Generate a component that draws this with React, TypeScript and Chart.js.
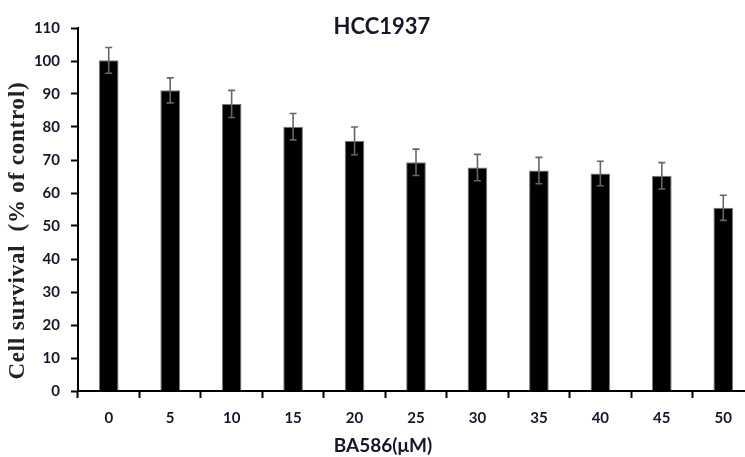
import React, { useEffect, useRef } from 'react';
import { Chart, registerables } from 'chart.js';

Chart.register(...registerables);

const categories = ['0', '5', '10', '15', '20', '25', '30', '35', '40', '45', '50'];
const survival = [100.2, 91.1, 87.0, 80.1, 75.8, 69.3, 67.7, 66.8, 65.9, 65.2, 55.5];
const errors = [3.9, 3.8, 4.1, 4.0, 4.2, 4.0, 4.0, 4.0, 3.7, 4.0, 3.8];

const chartTitle = 'HCC1937';
const xTitle = 'BA586(\u03bcM)';
const yTitle = 'Cell survival  (% of control)';

const textColor = '#16162a';

const errorBarPlugin = {
  id: 'errorBars',
  afterDatasetsDraw(chart: any) {
    const ctx = chart.ctx;
    const meta = chart.getDatasetMeta(0);
    const y = chart.scales.y;
    ctx.save();
    ctx.strokeStyle = '#666';
    ctx.lineWidth = 1.6;
    meta.data.forEach((el: any, i: number) => {
      const v = survival[i];
      const e = errors[i];
      const top = y.getPixelForValue(v + e);
      const bot = y.getPixelForValue(v - e);
      const x = el.x;
      const cap = 3.5;
      ctx.beginPath();
      ctx.moveTo(x, top);
      ctx.lineTo(x, bot);
      ctx.moveTo(x - cap, top);
      ctx.lineTo(x + cap, top);
      ctx.moveTo(x - cap, bot);
      ctx.lineTo(x + cap, bot);
      ctx.stroke();
    });
    ctx.restore();
  },
};

const textPlugin = {
  id: 'texts',
  afterDraw(chart: any) {
    const ctx = chart.ctx;
    const area = chart.chartArea;
    ctx.save();
    ctx.fillStyle = textColor;
    ctx.textAlign = 'center';
    ctx.textBaseline = 'middle';
    ctx.font = 'bold 22px Lato';
    ctx.fillText(chartTitle, chart.width / 2 + 2, 27);
    ctx.font = 'bold 19px Lato';
    ctx.fillText(xTitle, chart.width / 2 + 3, area.bottom + 55);
    ctx.translate(18, (area.top + area.bottom) / 2 + 21);
    ctx.rotate(-Math.PI / 2);
    ctx.fillStyle = '#222';
    ctx.font = 'bold 23px "Liberation Serif"';
    try {
      (ctx as any).letterSpacing = '0.8px';
    } catch (e) {
      /* ignore */
    }
    ctx.fillText(yTitle, 0, 0);
    ctx.restore();
  },
};

export default function App() {
  const ref = useRef<HTMLCanvasElement | null>(null);
  useEffect(() => {
    if (!ref.current) return;
    const chart = new Chart(ref.current, {
      type: 'bar',
      data: {
        labels: categories,
        datasets: [
          {
            data: survival,
            backgroundColor: '#000',
            borderColor: '#7a7a7a',
            borderWidth: 1,
            barPercentage: 0.32,
            categoryPercentage: 1,
          },
        ],
      },
      options: {
        animation: false,
        responsive: true,
        maintainAspectRatio: false,
        layout: { padding: { top: 28, right: 6, left: 0, bottom: 0 } },
        plugins: {
          legend: { display: false },
          title: { display: false },
          tooltip: { enabled: false },
        },
        scales: {
          x: {
            afterFit: (s: any) => {
              s.height = 66;
            },
            border: { color: '#000', width: 2 },
            grid: {
              offset: true,
              drawOnChartArea: false,
              drawTicks: true,
              tickLength: 7,
              tickColor: '#000',
              tickWidth: 2,
            },
            ticks: {
              color: textColor,
              padding: 11,
              font: { family: 'Lato', weight: 'bold', size: 15 },
            },
          },
          y: {
            min: 0,
            max: 110,
            afterFit: (s: any) => {
              s.width = 78;
            },
            border: { color: '#000', width: 2 },
            grid: {
              drawOnChartArea: false,
              drawTicks: true,
              tickLength: 7,
              tickColor: '#000',
              tickWidth: 2,
            },
            ticks: {
              stepSize: 10,
              color: textColor,
              padding: 11,
              font: { family: 'Lato', weight: 'bold', size: 15 },
            },
          },
        },
      },
      plugins: [errorBarPlugin, textPlugin],
    } as any);
    return () => chart.destroy();
  }, []);

  return (
    <div
      style={{
        position: 'absolute',
        left: 0,
        top: 0,
        width: 745,
        height: 457,
        overflow: 'hidden',
        background: '#fff',
      }}
    >
      <div style={{ position: 'relative', width: 760, height: 457 }}>
        <canvas ref={ref} />
      </div>
    </div>
  );
}
